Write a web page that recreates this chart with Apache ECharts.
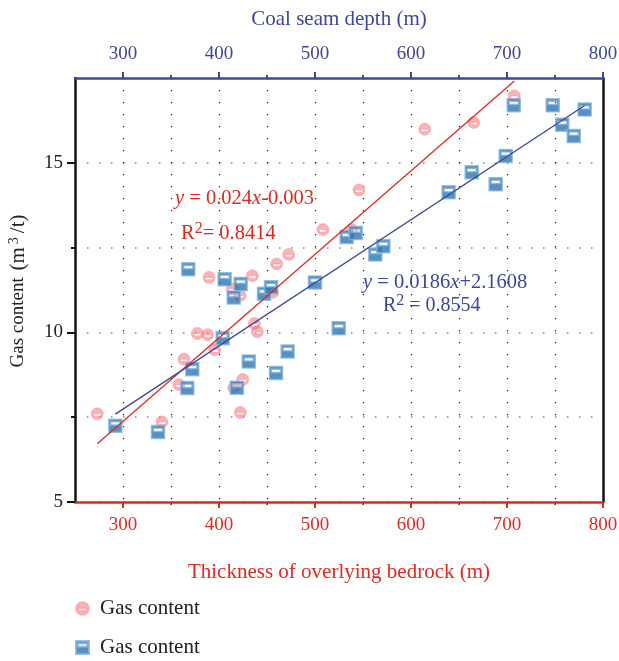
<!DOCTYPE html>
<html>
<head>
<meta charset="utf-8">
<script src="https://cdn.jsdelivr.net/npm/echarts@6/dist/echarts.min.js"></script>
<style>
  html, body { margin: 0; background: #fff; }
  #chart { width: 619px; height: 661px; }
</style>
</head>
<body>
<div id="chart"></div>
<script>
// gas content vs thickness of overlying bedrock (red circles, bottom axis)
const bedrockX = [273.2, 340.6, 358.3, 363.5, 377.4, 388.2, 389.6, 395.5, 413.9, 415.3, 422.0, 422.2, 424.7,
  434.7, 436.8, 439.9, 455.9, 460.0, 472.6, 508.3, 538.2, 545.8, 614.3, 665.3, 707.6];
const bedrockGas = [7.60, 7.36, 8.46, 9.21, 9.97, 9.93, 11.62, 9.49, 11.28, 8.37, 11.09, 7.64, 8.61,
  11.67, 10.26, 10.02, 11.18, 12.02, 12.30, 13.03, 13.03, 14.20, 15.99, 16.19, 16.97];

// gas content vs coal seam depth (blue squares, top axis)
const depthX = [292.0, 336.5, 367.0, 368.0, 372.2, 403.8, 405.9, 415.3, 418.7, 422.6, 431.0, 446.9, 454.2,
  459.4, 471.5, 500.0, 524.7, 533.0, 542.4, 562.8, 571.2, 639.2, 663.2, 688.2, 698.6, 707.0, 747.6,
  757.6, 769.5, 780.9];
const depthGas = [7.25, 7.06, 8.36, 11.86, 8.91, 9.83, 11.57, 11.03, 8.37, 11.43, 9.14, 11.14, 11.33,
  8.80, 9.44, 11.47, 10.12, 12.81, 12.93, 12.30, 12.54, 14.13, 14.72, 14.37, 15.20, 16.70, 16.70,
  16.12, 15.79, 16.57];

// fitted lines, end points as drawn
const bedrockFitX = [273.2, 707.6];
const bedrockFitY = [6.72, 17.41];
const depthFitX = [292.0, 780.9];
const depthFitY = [7.59, 16.69];

const xMajorTicks = [300, 400, 500, 600, 700, 800];
const xMinorTicks = [350, 450, 550, 650, 750];
const yMajorTicks = [5, 10, 15];
const yMinorTicks = [7.5, 12.5];

const RED = '#e2291f';
const BLUE = '#3c46a3';
const FONT = '"Liberation Serif", "DejaVu Serif", serif';

// markers with a white slot cut out (opposite winding)
const circleMark = 'path://M0,10A10,10,0,1,1,20,10A10,10,0,1,1,0,10ZM4,10L4,14L16,14L16,10Z';
const squareMark = 'path://M0,0L20,0L20,20L0,20ZM3,4L3,9L17,9L17,4Z';

const zip = (xs, ys) => xs.map((x, i) => [x, ys[i]]);

const dotGridV = { show: true, lineStyle: { color: '#222', type: [1.2, 10.8], width: 1.2 } };
const dotGridH = { show: true, lineStyle: { color: '#888', type: [1.5, 10.5], width: 1.5 } };

const chart = echarts.init(document.getElementById('chart'));

chart.setOption({
  animation: false,
  textStyle: { fontFamily: FONT },
  grid: { left: 75, right: 16, top: 78, bottom: 159, containLabel: false, outerBoundsMode: 'none' },
  legend: {
    orient: 'vertical',
    left: 75,
    top: 598,
    padding: 0,
    itemWidth: 13,
    itemHeight: 13,
    itemGap: 18,
    data: ['Gas content (bedrock)', 'Gas content (depth)'],
    formatter: () => 'Gas content',
    textStyle: { fontFamily: FONT, fontSize: 21, lineHeight: 20, color: '#222', padding: [0, 0, 0, 6] }
  },
  xAxis: [
    {
      type: 'value', position: 'bottom', min: 250, max: 800,
      name: 'Thickness of overlying bedrock (m)', nameLocation: 'middle', nameGap: 60,
      nameTextStyle: { color: RED, fontSize: 21, fontFamily: FONT },
      axisLine: { onZero: false, lineStyle: { color: RED, width: 2.5 } },
      axisTick: { customValues: xMajorTicks, length: 6, lineStyle: { color: RED, width: 2 } },
      axisLabel: { customValues: xMajorTicks, color: RED, fontSize: 19, margin: 14, fontFamily: FONT },
      splitLine: dotGridV
    },
    {
      type: 'value', position: 'top', min: 250, max: 800,
      name: 'Coal seam depth (m)', nameLocation: 'middle', nameGap: 48,
      nameTextStyle: { color: BLUE, fontSize: 21, fontFamily: FONT },
      axisLine: { onZero: false, lineStyle: { color: BLUE, width: 2.5 } },
      axisTick: { customValues: xMajorTicks, length: 6, lineStyle: { color: BLUE, width: 2 } },
      axisLabel: { customValues: xMajorTicks, color: BLUE, fontSize: 19, margin: 14, fontFamily: FONT },
      splitLine: { show: false }
    },
    {
      type: 'value', position: 'bottom', min: 250, max: 800,
      axisLine: { show: false, onZero: false },
      axisTick: { customValues: xMinorTicks, length: 3, lineStyle: { color: RED, width: 2 } },
      axisLabel: { show: false },
      splitLine: dotGridV
    },
    {
      type: 'value', position: 'top', min: 250, max: 800,
      axisLine: { show: false, onZero: false },
      axisTick: { customValues: xMinorTicks, length: 3, lineStyle: { color: BLUE, width: 2 } },
      axisLabel: { show: false },
      splitLine: { show: false }
    }
  ],
  yAxis: [
    {
      type: 'value', position: 'left', min: 5, max: 17.5,
      name: '{a|Gas content }{b|(m}{s|3}{b|/t)}', nameLocation: 'middle', nameGap: 46,
      nameTextStyle: {
        rich: {
          a: { fontSize: 19, fontFamily: FONT, color: '#222', lineHeight: 22 },
          b: { fontSize: 21, fontFamily: FONT, color: '#222', lineHeight: 22, padding: [0, 2, 0, 2] },
          s: { fontSize: 14, fontFamily: FONT, color: '#222', lineHeight: 10, verticalAlign: 'top', padding: [0, 2, 0, 1] }
        }
      },
      axisLine: { onZero: false, lineStyle: { color: '#111', width: 2.5 } },
      axisTick: { customValues: yMajorTicks, length: 8, lineStyle: { color: '#111', width: 2 } },
      axisLabel: { customValues: yMajorTicks, color: '#222', fontSize: 19, margin: 12, fontFamily: FONT },
      splitLine: dotGridH
    },
    {
      type: 'value', position: 'left', min: 5, max: 17.5,
      axisLine: { show: false, onZero: false },
      axisTick: { customValues: yMinorTicks, length: 4, lineStyle: { color: '#111', width: 2 } },
      axisLabel: { show: false },
      splitLine: dotGridH
    },
    {
      type: 'value', position: 'right', min: 5, max: 17.5,
      axisLine: { show: true, onZero: false, lineStyle: { color: '#111', width: 2.5 } },
      axisTick: { show: false },
      axisLabel: { show: false },
      splitLine: { show: false }
    }
  ],
  graphic: [
    {
      type: 'text', left: 175, top: 188,
      style: {
        text: '{i|y} = 0.024{i|x}-0.003',
        font: '20.5px ' + FONT, fill: RED,
        rich: { i: { fontStyle: 'italic', fontSize: 20.5, fontFamily: FONT, fill: RED } }
      }
    },
    {
      type: 'text', left: 181, top: 221,
      style: {
        text: '{n|R}{s|2}{n|= 0.8414}',
        fill: RED,
        rich: {
          n: { fontSize: 20.5, fontFamily: FONT, fill: RED, lineHeight: 26 },
          s: { fontSize: 16, fontFamily: FONT, fill: RED, lineHeight: 16, verticalAlign: 'top' }
        }
      }
    },
    {
      type: 'text', left: 363, top: 272,
      style: {
        text: '{i|y} = 0.0186{i|x}+2.1608',
        font: '20.5px ' + FONT, fill: BLUE,
        rich: { i: { fontStyle: 'italic', fontSize: 20.5, fontFamily: FONT, fill: BLUE } }
      }
    },
    {
      type: 'text', left: 383, top: 293,
      style: {
        text: '{n|R}{s|2}{n| = 0.8554}',
        fill: BLUE,
        rich: {
          n: { fontSize: 20, fontFamily: FONT, fill: BLUE, lineHeight: 26 },
          s: { fontSize: 16, fontFamily: FONT, fill: BLUE, lineHeight: 16, verticalAlign: 'top' }
        }
      }
    }
  ],
  series: [
    {
      name: 'Gas content (bedrock)',
      type: 'scatter',
      xAxisIndex: 0, yAxisIndex: 0,
      symbol: circleMark, symbolSize: 12,
      itemStyle: { color: 'rgba(246, 98, 106, 0.62)', borderColor: 'rgba(250, 140, 146, 0.6)', borderWidth: 1 },
      z: 2,
      data: zip(bedrockX, bedrockGas)
    },
    {
      name: 'Gas content (depth)',
      type: 'scatter',
      xAxisIndex: 1, yAxisIndex: 0,
      symbol: squareMark, symbolSize: 13,
      itemStyle: { color: '#2c75b3', borderColor: '#85b4dc', borderWidth: 1.5 },
      z: 3,
      data: zip(depthX, depthGas)
    },
    {
      name: 'bedrock fit',
      type: 'line',
      xAxisIndex: 0, yAxisIndex: 0,
      symbol: 'none', silent: true,
      lineStyle: { color: RED, width: 1.3 },
      z: 4,
      data: zip(bedrockFitX, bedrockFitY)
    },
    {
      name: 'depth fit',
      type: 'line',
      xAxisIndex: 1, yAxisIndex: 0,
      symbol: 'none', silent: true,
      lineStyle: { color: BLUE, width: 1.3 },
      z: 4,
      data: zip(depthFitX, depthFitY)
    }
  ]
});
</script>
</body>
</html>
